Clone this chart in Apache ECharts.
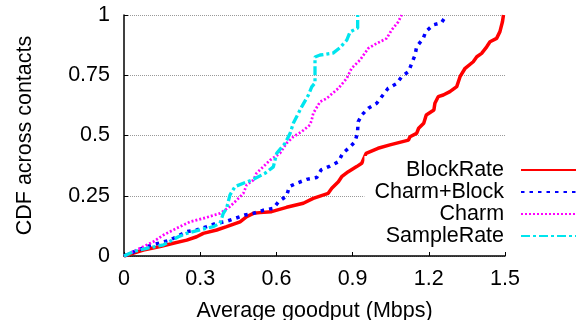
<!DOCTYPE html>
<html>
<head>
<meta charset="utf-8">
<script src="https://cdn.jsdelivr.net/npm/echarts@6/dist/echarts.min.js"></script>
<style>
html,body{margin:0;padding:0;background:#fff;}
#c{width:579px;height:320px;}
</style>
</head>
<body>
<div id="c"></div>
<script>
const seriesNames = ['BlockRate', 'Charm+Block', 'Charm', 'SampleRate'];
const xTicks = [0, 0.3, 0.6, 0.9, 1.2, 1.5];
const yTicks = [0, 0.25, 0.5, 0.75, 1];

const blockRateX = [0, 0.076, 0.142, 0.194, 0.247, 0.286, 0.312, 0.365, 0.404, 0.457, 0.483, 0.509, 0.535, 0.581, 0.64, 0.706, 0.745, 0.804, 0.818, 0.844, 0.857, 0.883, 0.916, 0.936, 0.953, 1.0, 1.047, 1.12, 1.126, 1.152, 1.16, 1.18, 1.19, 1.22, 1.224, 1.237, 1.257, 1.283, 1.31, 1.323, 1.343, 1.375, 1.389, 1.408, 1.428, 1.441, 1.467, 1.48, 1.49, 1.494];
const blockRateY = [0, 0.025, 0.039, 0.053, 0.066, 0.08, 0.094, 0.108, 0.122, 0.142, 0.163, 0.177, 0.18, 0.184, 0.202, 0.219, 0.239, 0.26, 0.281, 0.308, 0.329, 0.35, 0.371, 0.385, 0.426, 0.447, 0.461, 0.481, 0.495, 0.509, 0.53, 0.551, 0.585, 0.606, 0.634, 0.661, 0.668, 0.682, 0.703, 0.744, 0.779, 0.806, 0.827, 0.841, 0.868, 0.889, 0.903, 0.931, 0.972, 1.0];

const charmBlockX = [0, 0.024, 0.089, 0.181, 0.22, 0.247, 0.286, 0.326, 0.365, 0.398, 0.437, 0.476, 0.509, 0.549, 0.588, 0.608, 0.64, 0.651, 0.68, 0.719, 0.759, 0.776, 0.811, 0.844, 0.861, 0.887, 0.909, 0.919, 0.922, 0.936, 0.962, 0.995, 1.04, 1.074, 1.093, 1.12, 1.133, 1.146, 1.152, 1.178, 1.188, 1.218, 1.25, 1.27];
const charmBlockY = [0, 0.011, 0.039, 0.066, 0.087, 0.101, 0.108, 0.122, 0.136, 0.142, 0.156, 0.17, 0.177, 0.19, 0.198, 0.225, 0.249, 0.288, 0.302, 0.318, 0.326, 0.357, 0.373, 0.391, 0.426, 0.45, 0.474, 0.509, 0.557, 0.585, 0.613, 0.634, 0.696, 0.716, 0.744, 0.765, 0.80, 0.834, 0.868, 0.903, 0.931, 0.959, 0.968, 1.0];

const charmX = [0, 0.063, 0.115, 0.155, 0.207, 0.26, 0.312, 0.378, 0.417, 0.444, 0.47, 0.483, 0.509, 0.522, 0.548, 0.575, 0.614, 0.64, 0.667, 0.70, 0.732, 0.739, 0.745, 0.772, 0.798, 0.844, 0.877, 0.896, 0.929, 0.962, 0.995, 1.034, 1.054, 1.08, 1.093];
const charmY = [0, 0.032, 0.059, 0.087, 0.115, 0.142, 0.156, 0.177, 0.205, 0.232, 0.26, 0.295, 0.315, 0.344, 0.37, 0.398, 0.426, 0.468, 0.495, 0.516, 0.544, 0.564, 0.592, 0.64, 0.654, 0.696, 0.737, 0.779, 0.813, 0.862, 0.882, 0.903, 0.938, 0.972, 1.0];

const sampleRateX = [0, 0.037, 0.089, 0.155, 0.214, 0.247, 0.299, 0.352, 0.378, 0.391, 0.404, 0.417, 0.437, 0.47, 0.503, 0.555, 0.588, 0.601, 0.634, 0.654, 0.667, 0.70, 0.726, 0.739, 0.752, 0.752, 0.772, 0.823, 0.849, 0.877, 0.89, 0.92, 0.92];
const sampleRateY = [0, 0.018, 0.032, 0.046, 0.08, 0.094, 0.108, 0.122, 0.136, 0.177, 0.198, 0.253, 0.288, 0.302, 0.315, 0.343, 0.37, 0.426, 0.468, 0.509, 0.552, 0.62, 0.668, 0.702, 0.718, 0.826, 0.834, 0.842, 0.863, 0.896, 0.93, 0.946, 1.0];

function zip(xs, ys) { return xs.map((x, i) => [x, ys[i]]); }

const FONT = '"Liberation Sans", Arial, sans-serif';
const FS = 21.5;
const styles = [
  { color: '#ff0000', width: 3.5, type: 'solid' },
  { color: '#0000ff', width: 3.5, type: [3.5, 5] },
  { color: '#ff00ff', width: 2.7, type: [2, 2] },
  { color: '#00e5ee', width: 3.3, type: [9, 3, 3, 3] }
];
const datas = [
  zip(blockRateX, blockRateY),
  zip(charmBlockX, charmBlockY),
  zip(charmX, charmY),
  zip(sampleRateX, sampleRateY)
];

const chart = echarts.init(document.getElementById('c'), null, { renderer: 'canvas' });
chart.setOption({
  animation: false,
  backgroundColor: '#fff',
  textStyle: { fontFamily: FONT },
  grid: { left: 124, right: 74, top: 15, bottom: 64, containLabel: false, outerBoundsMode: 'none' },
  xAxis: {
    type: 'value', min: xTicks[0], max: xTicks[xTicks.length - 1], interval: 0.3,
    name: 'Average goodput (Mbps)', nameLocation: 'middle', nameGap: 44,
    nameTextStyle: { fontSize: FS, color: '#000', fontFamily: FONT },
    axisLine: { lineStyle: { color: '#000', width: 1.5 } },
    axisTick: { inside: true, length: 4, lineStyle: { color: '#000', width: 1 } },
    axisLabel: { fontSize: FS, color: '#000', margin: 12, fontFamily: FONT },
    splitLine: { show: false }
  },
  yAxis: {
    type: 'value', min: yTicks[0], max: yTicks[yTicks.length - 1], interval: 0.25,
    name: 'CDF across contacts', nameLocation: 'middle', nameGap: 88, nameRotate: 90,
    nameTextStyle: { fontSize: FS, color: '#000', fontFamily: FONT },
    axisLine: { lineStyle: { color: '#000', width: 1.5 } },
    axisTick: { inside: true, length: 4, lineStyle: { color: '#000', width: 1 } },
    axisLabel: { fontSize: FS, color: '#000', margin: 14, fontFamily: FONT },
    splitLine: { show: true, lineStyle: { color: '#999', width: 1, type: [1, 1] } }
  },
  legend: {
    orient: 'vertical', align: 'right', right: 0, top: 156,
    backgroundColor: '#fff', padding: [3, 2, 3, 10],
    itemWidth: 55, itemHeight: 10, itemGap: 0,
    itemStyle: { opacity: 0 },
    formatter: function (name) { return name + '  '; },
    textStyle: { fontSize: FS, color: '#000', fontFamily: FONT, lineHeight: 20 },
    data: seriesNames
  },
  series: seriesNames.map((n, i) => ({
    name: n, type: 'line', data: datas[i], symbol: 'none', showSymbol: false,
    lineStyle: { color: styles[i].color, width: styles[i].width, type: styles[i].type },
    itemStyle: { color: styles[i].color },
    z: 2 + i
  }))
});
</script>
</body>
</html>
